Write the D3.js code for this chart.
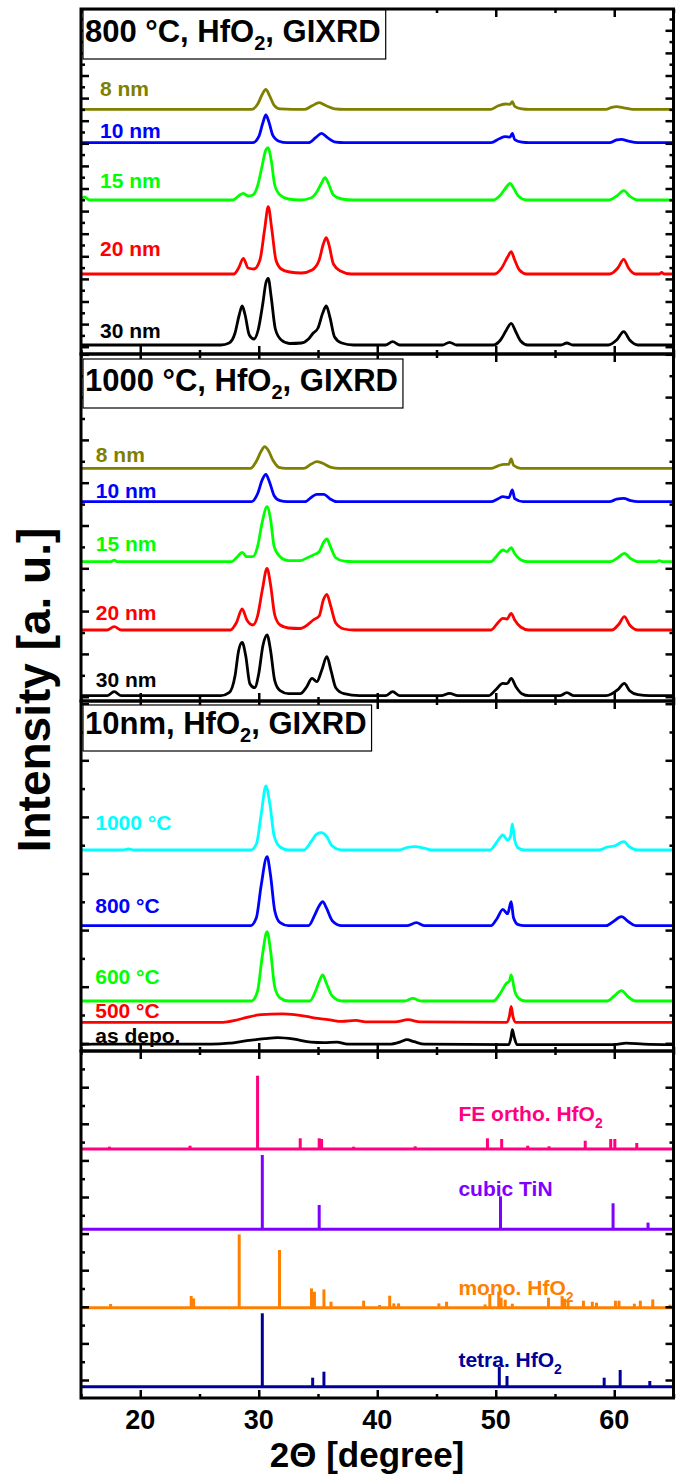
<!DOCTYPE html>
<html>
<head>
<meta charset="utf-8">
<script src="https://cdnjs.cloudflare.com/ajax/libs/d3/7.8.5/d3.min.js"></script>
<style>
  body { margin: 0; background: #fff; }
  text { font-family: "Liberation Sans", Arial, sans-serif; font-weight: bold; }
</style>
</head>
<body>
<script>
'use strict';

// x axis (2 theta, degree)
const xTicksMajor = [20, 30, 40, 50, 60];
const xTicksMinor = [15, 25, 35, 45, 55, 65];

// ---- panel 1 : 800 °C anneal, thickness series ----
const p1Labels = ["8 nm", "10 nm", "15 nm", "20 nm", "30 nm"];
const p1Colors = ["#808000", "#0000ff", "#00ff00", "#ff0000", "#000000"];
const p1Offsets = [244.7, 211.3, 154, 80, 9];
const p1_8nm = [[15,0],[29.4,0],[29.9,5],[30.3,15],[30.6,20],[30.9,14],[31.3,4],[31.8,0.5],[33.9,0],[34.5,3.5],[35.1,6.6],[35.7,3.5],[36.4,0.5],[37.2,0],[49.6,0],[50.2,3.5],[50.8,5.3],[51.2,5],[51.4,7.6],[51.6,3],[52.2,0.5],[52.8,0],[59.3,0],[59.8,2],[60.2,2.6],[60.8,1.5],[61.6,0],[65,0]];
const p1_10nm = [[15,0],[29.5,0],[30.0,6],[30.35,20],[30.6,27.7],[30.85,21],[31.2,7],[31.7,1.5],[32.4,0],[34.2,0],[34.8,5],[35.3,9.4],[35.8,5],[36.5,0.5],[37.2,0],[49.6,0],[50.3,4],[50.8,6],[51.2,5.5],[51.4,9.4],[51.6,3],[52.2,0.5],[52.8,0],[59.6,0],[60.2,2.8],[60.6,3.4],[61.2,1.5],[62,0],[65,0]];
const p1_15nm = [[15,0],[15.3,3],[15.7,0],[27.8,0],[28.3,4],[28.7,6.7],[29.1,4],[29.5,5],[29.9,14],[30.3,35],[30.6,50],[30.8,52.3],[31.05,40],[31.35,15],[31.8,5],[32.5,1],[33.5,0],[34.4,2],[34.9,8],[35.3,17],[35.6,22.3],[35.9,16],[36.3,5],[37,1],[38,0],[49.8,0],[50.4,5],[50.9,13],[51.2,16.7],[51.5,12],[51.9,4],[52.6,0],[59.5,0],[60.2,4],[60.8,9.3],[61.3,4],[62,0],[65,0]];
const p1_20nm = [[15,0],[27.9,0],[28.3,6],[28.7,15.7],[29.1,6],[29.6,5],[30.1,14],[30.5,45],[30.8,67.3],[31.1,45],[31.45,14],[31.9,5],[32.6,2],[33.6,1],[34.5,4],[35.1,14],[35.45,30],[35.7,36.3],[35.95,28],[36.3,10],[36.9,3],[37.8,0],[49.9,0],[50.5,6],[51.0,17],[51.3,22.3],[51.6,14],[52,4],[52.6,0],[59.6,0],[60.3,6],[60.8,14.7],[61.2,6],[61.8,0],[63.8,0],[64.0,1.5],[64.2,0],[65,0]];
const p1_30nm = [[15,0],[26.8,0],[27.5,2],[28.0,12],[28.35,30],[28.6,39],[28.85,30],[29.2,10],[29.6,6],[29.95,15],[30.35,42],[30.6,62],[30.8,66.7],[31.05,48],[31.4,16],[31.9,5],[32.6,1.5],[33.6,2],[34.2,6],[34.6,12],[35.0,17],[35.4,32],[35.7,39],[36.0,28],[36.4,8],[37.0,2],[38,0],[40.7,0],[41.3,3.3],[41.9,0],[45.5,0],[46.1,2.7],[46.7,0],[49.8,0],[50.4,5],[50.9,15],[51.3,21.7],[51.7,13],[52.1,4],[52.7,0],[55.5,0],[56,2],[56.5,0],[59.5,0],[60.2,5],[60.8,13.3],[61.3,5],[62,0],[65,0]];

// ---- panel 2 : 1000 °C anneal, thickness series ----
const p2Labels = ["8 nm", "10 nm", "15 nm", "20 nm", "30 nm"];
const p2Colors = ["#808000", "#0000ff", "#00ff00", "#ff0000", "#000000"];
const p2Offsets = [232.7, 199.3, 139.3, 71, 5.3];
const p2_8nm = [[15,0],[29.3,0],[29.8,7],[30.2,17],[30.5,21.6],[30.8,18],[31.2,8],[31.7,1],[32.3,0],[33.8,0],[34.4,4],[34.9,6.6],[35.4,5],[36.1,1],[36.8,0],[49.6,0],[50.2,2.5],[50.7,4],[51.1,4],[51.3,9.3],[51.5,3],[52.1,0],[65,0]];
const p2_10nm = [[15,0],[29.4,0],[29.9,8],[30.3,22],[30.6,27.4],[30.9,20],[31.3,6],[31.8,1],[32.4,0],[33.9,0],[34.5,5],[34.9,7.3],[35.5,7.3],[36.0,3],[36.6,0],[49.6,0],[50.2,3],[50.6,5],[51.1,4],[51.4,11.7],[51.6,3],[52.3,0],[59.6,0],[60.2,2.5],[60.8,3.3],[61.4,1],[62,0],[65,0]];
const p2_15nm = [[15,0],[17.5,0],[17.8,1.5],[18.1,0],[27.7,0],[28.2,5],[28.6,9.3],[29.0,5],[29.5,5],[29.9,15],[30.3,40],[30.7,55],[31.0,42],[31.3,15],[31.8,5],[32.5,1],[33.5,1],[34.1,4],[34.6,6.7],[35.1,10],[35.45,19],[35.75,22.7],[36.05,15],[36.5,4],[37.2,0.5],[38,0],[49.6,0],[50.1,6],[50.6,11.7],[50.95,10],[51.3,14],[51.6,8],[52.1,2],[52.7,0],[59.7,0],[60.3,4],[60.85,8.3],[61.4,3],[62,0],[63.5,0],[63.8,1],[64.1,0],[65,0]];
const p2_20nm = [[15,0],[17.2,0],[17.8,3.3],[18.4,0],[27.6,0],[28.1,7],[28.6,21],[29.0,10],[29.5,5],[29.9,14],[30.3,40],[30.7,61.7],[31.0,45],[31.35,15],[31.8,5],[32.5,2],[33.5,1.5],[34.1,5],[34.6,10],[35.1,14],[35.45,30],[35.75,35.7],[36.05,25],[36.5,7],[37.2,1],[38,0],[49.6,0],[50.1,6],[50.6,11.7],[50.95,11],[51.3,16.7],[51.6,10],[52.1,3],[52.8,0],[59.8,0],[60.4,6],[60.85,13.3],[61.3,5],[62,0],[65,0]];
const p2_30nm = [[15,0],[17.2,0],[17.8,4],[18.4,0],[26.8,0],[27.5,3],[28.0,20],[28.3,45],[28.6,53.3],[28.9,40],[29.25,12],[29.65,8],[30.0,22],[30.35,50],[30.7,60.7],[31.0,45],[31.35,15],[31.8,5],[32.5,2],[33.5,2],[34.0,8],[34.5,17.3],[34.9,14],[35.3,25],[35.75,39],[36.1,25],[36.5,8],[37.2,2],[38.5,0],[40.7,0],[41.3,4],[41.9,0],[45.4,0],[46.1,2.3],[46.8,0],[49.4,0],[50.0,6],[50.6,12.3],[50.95,12],[51.3,17.3],[51.7,9],[52.2,2],[52.8,0],[55.4,0],[56,3],[56.6,0],[59.3,0],[59.8,2],[60.3,6],[60.85,12.3],[61.3,5],[62,1],[63,0],[65,0]];

// ---- panel 3 : 10 nm film, anneal temperature series ----
const p3Labels = ["1000 °C", "800 °C", "600 °C", "500 °C", "as depo."];
const p3Colors = ["#00ffff", "#0000ff", "#00ff00", "#ff0000", "#000000"];
const p3Offsets = [201, 125.3, 50, 28.6, 6.3];
const p3_1000C = [[15,0],[18.5,0],[19.0,1],[19.5,0],[29.3,0],[29.8,6],[30.2,35],[30.6,64],[30.95,45],[31.3,14],[31.8,3],[32.5,0],[33.8,0],[34.4,8],[34.9,16],[35.3,17.3],[35.7,14],[36.2,4],[37,0],[41.8,0],[42.5,2.5],[43.2,3.3],[43.9,2],[44.6,0],[49.5,0],[50.1,8],[50.6,15],[51.0,10],[51.25,14],[51.4,26],[51.6,10],[51.9,2],[52.4,0],[58.7,0],[59.4,3],[60.0,4],[60.8,8.3],[61.3,3],[62,0],[65,0]];
const p3_800C = [[15,0],[29.3,0],[29.8,8],[30.2,40],[30.7,69],[31.0,50],[31.35,15],[31.8,3],[32.5,0],[34.2,0],[34.7,10],[35.1,20],[35.4,24],[35.7,18],[36.2,5],[37,0],[42.5,0],[43.3,3],[44,0],[49.6,0],[50.1,7],[50.6,16.3],[51.0,12],[51.3,24],[51.5,8],[51.9,1],[52.4,0],[59.3,0],[59.9,4],[60.6,9],[61.2,4],[61.8,0],[65,0]];
const p3_600C = [[15,0],[29.4,0],[29.9,10],[30.3,45],[30.7,69.3],[31.0,50],[31.35,14],[31.8,3],[32.5,0],[34.3,0],[34.8,10],[35.15,21],[35.4,26],[35.7,18],[36.2,5],[37,0],[42.3,0],[43,2.7],[43.7,0],[49.8,0],[50.4,8],[50.9,17.7],[51.15,20],[51.3,26],[51.6,10],[52,2],[52.5,0],[59.4,0],[60.0,5],[60.6,10.3],[61.2,4],[61.8,0],[65,0]];
const p3_500C = [[15,0],[27,0],[28,2],[29,5],[30,7.5],[31,8.3],[32,8.5],[33,7.8],[34,6],[35,4],[36,2.5],[37,1],[38.2,2],[39,0.5],[41.5,0.5],[42.6,2.7],[43.6,0.5],[50.9,0],[51.15,6],[51.3,16],[51.45,6],[51.7,0],[65,0]];
const p3_asDepo = [[15,0],[16,0.5],[26,0.5],[27.5,1.5],[29,4],[30.5,6],[31.6,7],[33,5.5],[34.4,2.5],[35.5,2],[36.6,2.5],[37.5,0.5],[41,0.5],[42,3],[42.5,5],[43.1,3],[44,0.5],[51.1,0],[51.3,8],[51.4,15],[51.55,8],[51.8,0],[60,0],[61,1.5],[62.5,0.5],[65,0]];

// ---- reference patterns (stick positions, relative intensity) ----
const refNames = [["FE ortho. HfO", "2"], ["cubic TiN", ""], ["mono. HfO", "2"], ["tetra. HfO", "2"]];
const refColors = ["#ff0080", "#8000ff", "#ff8000", "#000099"];
const refOffsets = [249, 168.7, 90.3, 11.3];
const fePeaks = [[17.4,2.3],[24.2,3.3],[29.9,73.3],[33.5,10.7],[35.1,10.7],[35.3,10],[38.0,2.3],[43.2,2.7],[49.3,10.7],[50.5,10],[52.7,3.3],[54.5,2.7],[57.55,8.3],[59.7,10],[60.05,10],[61.9,6]];
const tinPeaks = [[30.3,74.3],[35.1,24.3],[50.4,33],[59.9,26],[62.85,6.7]];
const monoPeaks = [[17.5,3.7],[24.3,11.7],[24.5,9.3],[28.35,73.3],[31.75,57.7],[34.45,19.3],[34.7,16],[35.5,18.3],[36.1,6],[38.85,7],[40.2,2.7],[41.05,12],[41.4,4.3],[41.8,4.3],[45.2,4.3],[45.85,6],[49.1,3.3],[49.5,13.7],[50.25,16],[50.45,10],[50.8,8],[51.4,4],[54.45,10],[55.6,11.5],[55.8,9],[56.1,6.5],[57.4,7],[58.15,6],[58.5,5],[60.1,7],[60.4,7],[61.7,4],[62.2,7],[63.25,8.3],[64.7,3]];
const tetraPeaks = [[30.3,73.4],[34.55,9],[35.5,15],[50.3,20],[50.95,10.7],[59.15,9],[60.5,16.7],[63.0,5.7]];

// ---- page layout ----
const W = 680, H = 1477;
const xLeft = 81, xRight = 673.5;

const panels = [
  { top: 9, bottom: 354, yMax: 345, tick0: 7.3, tickStep: 22.6, boxTop: 10, boxH: 49,
    title: ["800 °C, HfO", "2", ", GIXRD"], labelX: 16.6, labelY: [258.3, 215.7, 165.7, 98, 15.7],
    names: p1Labels, colors: p1Colors, offsets: p1Offsets, curves: [p1_8nm, p1_10nm, p1_15nm, p1_20nm, p1_30nm] },
  { top: 354, bottom: 701, yMax: 347, tick0: 4.3, tickStep: 42.8, boxTop: 359, boxH: 49,
    title: ["1000 °C, HfO", "2", ", GIXRD"], labelX: 16.25, labelY: [239.3, 202.7, 150, 81, 14.3],
    names: p2Labels, colors: p2Colors, offsets: p2Offsets, curves: [p2_8nm, p2_10nm, p2_15nm, p2_20nm, p2_30nm] },
  { top: 701, bottom: 1051, yMax: 350, tick0: 7.7, tickStep: 56.6, boxTop: 705, boxH: 46,
    title: ["10nm, HfO", "2", ", GIXRD"], labelX: 16.2, labelY: [221, 137.7, 67, 33, 8],
    names: p3Labels, colors: p3Colors, offsets: p3Offsets, curves: [p3_1000C, p3_800C, p3_600C, p3_500C, p3_asDepo] }
];
const refPanel = { top: 1051, bottom: 1398, yMax: 347, tick0: 18, tickStep: 36.6,
  labelX: 46.85, labelY: [277.3, 202.3, 103, 31.3] };

const svg = d3.select('body').append('svg')
  .attr('width', W)
  .attr('height', H);

const x = d3.scaleLinear().domain([15, 65]).range([xLeft, xRight]);

// draw inward ticks on all four sides of one panel
function drawFrame(p, y) {
  const g = svg.append('g');
  const majors = d3.range(p.tick0, p.yMax, p.tickStep);
  const minors = d3.range(p.tick0 + p.tickStep / 2, p.yMax, p.tickStep);

  const axes = [
    [d3.axisLeft(y).tickValues(majors).tickSize(-8), `translate(${xLeft},0)`],
    [d3.axisLeft(y).tickValues(minors).tickSize(-4), `translate(${xLeft},0)`],
    [d3.axisRight(y).tickValues(majors).tickSize(-8), `translate(${xRight},0)`],
    [d3.axisRight(y).tickValues(minors).tickSize(-4), `translate(${xRight},0)`],
    [d3.axisBottom(x).tickValues(xTicksMajor).tickSize(-8), `translate(0,${p.bottom})`],
    [d3.axisBottom(x).tickValues(xTicksMinor).tickSize(-4), `translate(0,${p.bottom})`],
    [d3.axisTop(x).tickValues(xTicksMajor).tickSize(-8), `translate(0,${p.top})`],
    [d3.axisTop(x).tickValues(xTicksMinor).tickSize(-4), `translate(0,${p.top})`]
  ];
  axes.forEach(([ax, tr]) => {
    const a = g.append('g').attr('transform', tr).call(ax.tickFormat(''));
    a.select('.domain').remove();
    a.selectAll('line').attr('stroke', '#000').attr('stroke-width', 2.5);
  });

  g.append('rect')
    .attr('x', xLeft).attr('y', p.top)
    .attr('width', xRight - xLeft).attr('height', p.bottom - p.top)
    .attr('fill', 'none').attr('stroke', '#000').attr('stroke-width', 3);
}

// label text with an optional subscript
function subText(parent, parts, size, subSize, drop) {
  const t = parent.append('text').style('font-size', size + 'px');
  t.append('tspan').text(parts[0]);
  if (parts[1]) {
    t.append('tspan').style('font-size', subSize + 'px').attr('dy', drop).text(parts[1]);
  }
  if (parts[2]) {
    t.append('tspan').style('font-size', size + 'px').attr('dy', -drop).text(parts[2]);
  }
  return t;
}

// measured XRD panels
panels.forEach((p) => {
  const y = d3.scaleLinear().domain([0, p.yMax]).range([p.bottom, p.top]);

  p.curves.forEach((c, i) => {
    const off = p.offsets[i];
    const line = d3.line()
      .x((d) => x(d[0]))
      .y((d) => y(d[1] + off))
      .curve(d3.curveMonotoneX);
    svg.append('path')
      .datum(c)
      .attr('d', line)
      .attr('fill', 'none')
      .attr('stroke', p.colors[i])
      .attr('stroke-width', 2.8)
      .attr('stroke-linejoin', 'round');

    svg.append('text')
      .attr('x', x(p.labelX))
      .attr('y', y(p.labelY[i]))
      .style('font-size', '21px')
      .attr('fill', p.colors[i])
      .text(p.names[i]);
  });

  drawFrame(p, y);

  // title box
  const tg = svg.append('g');
  const box = tg.append('rect')
    .attr('x', xLeft + 2).attr('y', p.boxTop)
    .attr('height', p.boxH)
    .attr('fill', '#fff').attr('stroke', '#000').attr('stroke-width', 1.2);
  const t = subText(tg, p.title, 31, 20, 8)
    .attr('x', xLeft + 4)
    .attr('y', p.boxTop + p.boxH - 17);
  const bb = t.node().getBBox();
  box.attr('width', bb.x + bb.width + 5 - (xLeft + 2));
});

// reference stick patterns
(function () {
  const p = refPanel;
  const y = d3.scaleLinear().domain([0, p.yMax]).range([p.bottom, p.top]);
  const sets = [fePeaks, tinPeaks, monoPeaks, tetraPeaks];

  sets.forEach((s, i) => {
    const off = refOffsets[i];
    const g = svg.append('g').attr('stroke', refColors[i]);
    g.append('line')
      .attr('x1', x(15)).attr('x2', x(65))
      .attr('y1', y(off)).attr('y2', y(off))
      .attr('stroke-width', 3);
    g.selectAll('.stick')
      .data(s)
      .enter()
      .append('line')
      .attr('class', 'stick')
      .attr('x1', (d) => x(d[0])).attr('x2', (d) => x(d[0]))
      .attr('y1', y(off)).attr('y2', (d) => y(off + d[1]))
      .attr('stroke-width', 3);

    subText(svg, refNames[i], 21, 14, 7)
      .attr('x', x(p.labelX))
      .attr('y', y(p.labelY[i]))
      .attr('fill', refColors[i]);
  });

  drawFrame(p, y);
})();

// x tick labels and axis titles
svg.selectAll('.xlab')
  .data(xTicksMajor)
  .enter()
  .append('text')
  .attr('class', 'xlab')
  .attr('x', (d) => x(d))
  .attr('y', 1429)
  .attr('text-anchor', 'middle')
  .style('font-size', '27px')
  .text((d) => d);

svg.append('text')
  .attr('x', 367)
  .attr('y', 1467)
  .attr('text-anchor', 'middle')
  .style('font-size', '35px')
  .text('2Θ [degree]');

svg.append('text')
  .attr('transform', 'translate(50, 690)rotate(-90)')
  .attr('text-anchor', 'middle')
  .style('font-size', '46px')
  .text('Intensity [a. u.]');
</script>
</body>
</html>
